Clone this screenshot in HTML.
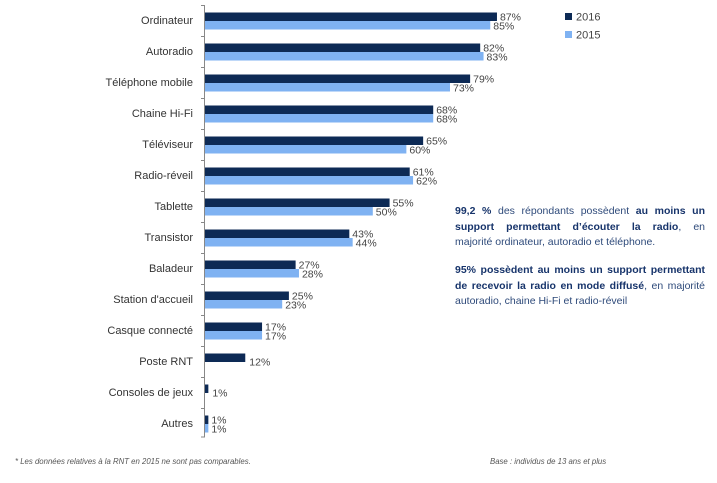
<!DOCTYPE html>
<html><head><meta charset="utf-8"><style>
body{margin:0;background:#fff;width:717px;height:483px;overflow:hidden;font-family:"Liberation Sans",sans-serif}
svg{position:absolute;left:0;top:0}
.p{position:absolute;left:455px;width:250px;font-size:10.5px;line-height:15.5px;color:#2e4a7a}
.p span{display:block;white-space:nowrap}
.p .j{text-align:justify;text-align-last:justify;white-space:normal}
.p b{color:#17346b}
</style></head><body>
<svg width="717" height="483" font-family="Liberation Sans, sans-serif">
<g id="c"></g>
<line x1="204.5" y1="5" x2="204.5" y2="437" stroke="#888" stroke-width="1"/>
<rect x="565" y="13" width="7" height="7" fill="#0d2a55"/>
<text x="576" y="20.5" font-size="11" fill="#444">2016</text>
<rect x="565" y="31" width="7" height="7" fill="#7fb2f2"/>
<text x="576" y="38.5" font-size="11" fill="#444">2015</text>
<text x="15" y="464" font-size="7.8" font-style="italic" fill="#555">* Les données relatives à la RNT en 2015 ne sont pas comparables.</text>
<text x="490" y="464" font-size="7.8" font-style="italic" fill="#555">Base : individus de 13 ans et plus</text>
</svg>
<div class="p" style="top:204px"><span class="j"><b>99,2 %</b> des répondants possèdent <b>au moins un</b></span><span class="j"><b>support permettant d’écouter la radio</b>, en</span><span>majorité ordinateur, autoradio et téléphone.</span></div>
<div class="p" style="top:263px"><span class="j"><b>95% possèdent au moins un support permettant</b></span><span class="j"><b>de recevoir la radio en mode diffusé</b>, en majorité</span><span>autoradio, chaine Hi-Fi et radio-réveil</span></div>
<script>
var d=[["Ordinateur",87,85],["Autoradio",82,83],["Téléphone mobile",79,73],["Chaine Hi-Fi",68,68],["Téléviseur",65,60],["Radio-réveil",61,62],["Tablette",55,50],["Transistor",43,44],["Baladeur",27,28],["Station d'accueil",25,23],["Casque connecté",17,17],["Poste RNT",12,null],["Consoles de jeux",1,null],["Autres",1,1]];
var s="",k=3.356,x0=205;
for(var i=0;i<d.length;i++){var c=21+31*i;
s+='<text x="193" y="'+(c+3)+'" font-size="11" fill="#333" text-anchor="end">'+d[i][0]+'</text>';
s+='<line x1="201" y1="'+(c-15.5)+'" x2="205" y2="'+(c-15.5)+'" stroke="#888"/>';
var w1=d[i][1]*k;s+='<rect x="'+x0+'" y="'+(c-8.5)+'" width="'+w1+'" height="8.5" fill="#0d2a55"/>';
if(d[i][2]===null){s+='<text x="'+(x0+w1+4)+'" y="'+(c+3.5)+'" font-size="10.5" fill="#444">'+d[i][1]+'%</text>';}
else{var w2=d[i][2]*k;s+='<rect x="'+x0+'" y="'+c+'" width="'+w2+'" height="8.5" fill="#7fb2f2"/>';
s+='<text x="'+(x0+w1+3)+'" y="'+(c-0.5)+'" font-size="10.5" fill="#444">'+d[i][1]+'%</text>';
s+='<text x="'+(x0+w2+3)+'" y="'+(c+8.5)+'" font-size="10.5" fill="#444">'+d[i][2]+'%</text>';}}
s+='<line x1="201" y1="437" x2="205" y2="437" stroke="#888"/>';
document.getElementById("c").innerHTML=s;
</script>
</body></html>
